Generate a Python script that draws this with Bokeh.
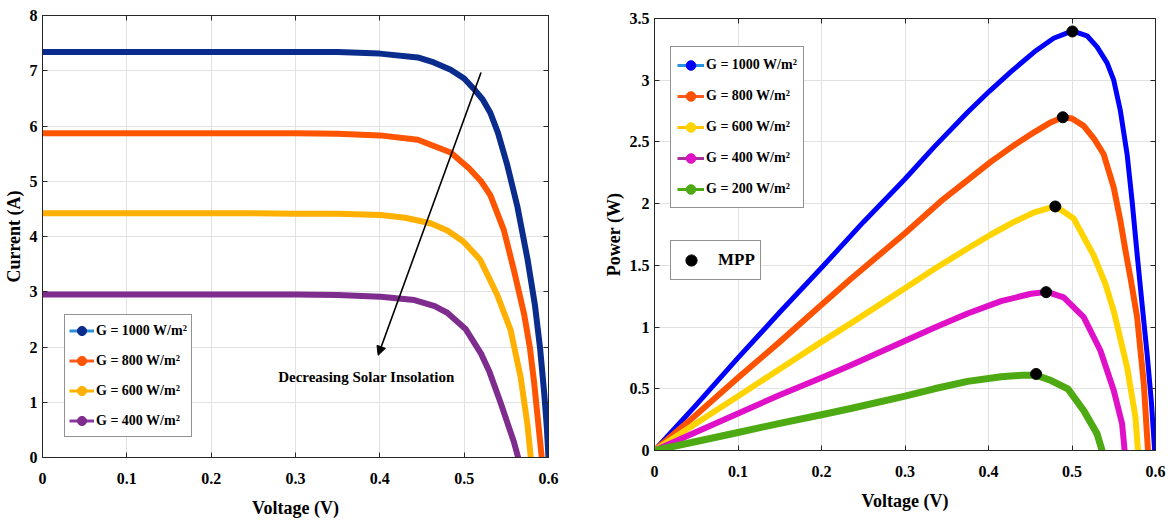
import numpy as np
from bokeh.plotting import figure
from bokeh.models import (Range1d, FixedTicker, CustomJSTickFormatter, LinearAxis,
                          Legend, LegendItem, Arrow, NormalHead, Label)
from bokeh.layouts import row, column
from bokeh.embed import file_html
from bokeh.resources import INLINE

FONT = "Liberation Serif"

# ---------------- ticks ----------------
v_ticks = [0, 0.1, 0.2, 0.3, 0.4, 0.5, 0.6]
v_tick_labels = ["0", "0.1", "0.2", "0.3", "0.4", "0.5", "0.6"]
i_ticks = [0, 1, 2, 3, 4, 5, 6, 7, 8]
i_tick_labels = ["0", "1", "2", "3", "4", "5", "6", "7", "8"]
p_ticks = [0, 0.5, 1, 1.5, 2, 2.5, 3, 3.5]
p_tick_labels = ["0", "0.5", "1", "1.5", "2", "2.5", "3", "3.5"]

# ---------------- I-V data (left) ----------------
iv_labels = ["G = 1000 W/m²", "G = 800 W/m²", "G = 600 W/m²", "G = 400 W/m²"]
v_1000 = [0, 0.05, 0.1, 0.15, 0.2, 0.25, 0.3, 0.35, 0.40, 0.445, 0.464, 0.484, 0.50, 0.511,
          0.522, 0.531, 0.540, 0.551, 0.563, 0.575, 0.584, 0.590, 0.595, 0.598, 0.600]
i_1000 = [7.34, 7.34, 7.34, 7.34, 7.34, 7.34, 7.34, 7.34, 7.31, 7.24, 7.15, 7.02, 6.86, 6.68,
          6.48, 6.24, 5.88, 5.30, 4.55, 3.60, 2.75, 1.98, 1.15, 0.55, 0.0]
v_800 = [0, 0.05, 0.1, 0.15, 0.2, 0.25, 0.3, 0.35, 0.40, 0.445, 0.484, 0.506, 0.52, 0.531,
         0.547, 0.559, 0.571, 0.578, 0.583, 0.588, 0.592]
i_800 = [5.87, 5.87, 5.87, 5.87, 5.87, 5.87, 5.87, 5.86, 5.83, 5.75, 5.52, 5.23, 5.00, 4.75,
         4.12, 3.39, 2.60, 1.98, 1.35, 0.60, 0.0]
v_600 = [0, 0.05, 0.1, 0.15, 0.2, 0.25, 0.3, 0.35, 0.401, 0.43, 0.460, 0.480, 0.499, 0.519,
         0.539, 0.555, 0.567, 0.575, 0.579]
i_600 = [4.42, 4.42, 4.42, 4.42, 4.42, 4.42, 4.41, 4.41, 4.39, 4.34, 4.24, 4.11, 3.91, 3.58,
         2.95, 2.31, 1.45, 0.60, 0.0]
v_400 = [0, 0.05, 0.1, 0.15, 0.2, 0.25, 0.3, 0.35, 0.401, 0.441, 0.465, 0.480, 0.502, 0.520,
         0.530, 0.543, 0.553, 0.559, 0.564]
i_400 = [2.95, 2.95, 2.95, 2.95, 2.95, 2.95, 2.95, 2.94, 2.91, 2.85, 2.74, 2.62, 2.32, 1.88,
         1.55, 1.00, 0.55, 0.28, 0.0]

# ---------------- P-V data (right) ----------------
pv_labels = ["G = 1000 W/m²", "G = 800 W/m²", "G = 600 W/m²", "G = 400 W/m²", "G = 200 W/m²"]
pv_v_1000 = [0, 0.05, 0.1, 0.15, 0.2, 0.25, 0.3, 0.335, 0.375, 0.401, 0.427, 0.455, 0.478,
             0.5005, 0.518, 0.530, 0.542, 0.550, 0.558, 0.566, 0.572, 0.578, 0.584, 0.590,
             0.595, 0.599]
pv_p_1000 = [0, 0.37, 0.75, 1.12, 1.48, 1.85, 2.20, 2.46, 2.74, 2.91, 3.07, 3.23, 3.34,
             3.40, 3.36, 3.27, 3.14, 3.00, 2.75, 2.40, 2.02, 1.59, 1.18, 0.78, 0.40, 0.0]
pv_v_800 = [0, 0.05, 0.1, 0.15, 0.2, 0.235, 0.3, 0.343, 0.375, 0.403, 0.43, 0.455, 0.475,
            0.489, 0.50, 0.514, 0.527, 0.538, 0.550, 0.558, 0.564, 0.570, 0.578, 0.586, 0.591]
pv_p_800 = [0, 0.29, 0.59, 0.88, 1.18, 1.39, 1.76, 2.02, 2.19, 2.34, 2.47, 2.58, 2.66,
            2.70, 2.69, 2.63, 2.52, 2.40, 2.13, 1.86, 1.62, 1.40, 1.08, 0.54, 0.0]
pv_v_600 = [0, 0.05, 0.1, 0.15, 0.2, 0.235, 0.299, 0.335, 0.371, 0.403, 0.43, 0.455, 0.480,
            0.502, 0.526, 0.540, 0.550, 0.566, 0.576, 0.579]
pv_p_600 = [0, 0.22, 0.44, 0.66, 0.88, 1.03, 1.31, 1.47, 1.62, 1.75, 1.85, 1.93, 1.98,
            1.88, 1.58, 1.35, 1.13, 0.675, 0.27, 0.0]
pv_v_400 = [0, 0.05, 0.1, 0.15, 0.2, 0.235, 0.299, 0.335, 0.375, 0.415, 0.451, 0.470, 0.490,
            0.514, 0.534, 0.550, 0.560, 0.563]
pv_p_400 = [0, 0.15, 0.30, 0.45, 0.59, 0.69, 0.885, 0.995, 1.11, 1.21, 1.27, 1.285, 1.24,
            1.08, 0.81, 0.486, 0.216, 0.0]
pv_v_200 = [0, 0.05, 0.1, 0.15, 0.2, 0.235, 0.3, 0.335, 0.375, 0.415, 0.44, 0.457, 0.475,
            0.495, 0.514, 0.530, 0.536]
pv_p_200 = [0, 0.073, 0.146, 0.22, 0.29, 0.34, 0.44, 0.50, 0.56, 0.597, 0.61, 0.61, 0.567,
            0.50, 0.324, 0.135, 0.0]

mpp_v = [0.5005, 0.489, 0.480, 0.469, 0.457]
mpp_p = [3.395, 2.70, 1.977, 1.283, 0.62]

# annotation
arrow_x = [0.520, 0.398]
arrow_y = [6.97, 1.85]
note_text = "Decreasing Solar Insolation"
note_x, note_y = 0.384, 1.45

# ---------------- styles ----------------
iv_colors = ["#0A2C8C", "#FF5400", "#FFB000", "#7E2C8E"]
iv_leg_line = ["#2C8FD8", "#FF5A1E", "#FFB300", "#8A3A9C"]
pv_colors = ["#0000FF", "#FF5200", "#FFD400", "#E010C8", "#4DAA12"]
pv_leg_line = ["#2A90E0", "#FF5A1E", "#FFC400", "#A8309C", "#4DAA12"]
NAN = np.array([np.nan])


def fmt(tvals, tlabs):
    return CustomJSTickFormatter(
        args=dict(tvals=tvals, tlabs=tlabs),
        code="var k = -1; for (var j = 0; j < tvals.length; j++) { if (Math.abs(tvals[j] - tick) < 1e-9) { k = j; } } return k >= 0 ? tlabs[k] : '';")


def style_axis(ax, tvals, tlabs, standoff):
    ax.ticker = FixedTicker(ticks=tvals)
    ax.formatter = fmt(tvals, tlabs)
    ax.major_tick_in = 5
    ax.major_tick_out = 0
    ax.minor_tick_in = 0
    ax.minor_tick_out = 0
    ax.axis_line_color = "#262626"
    ax.major_tick_line_color = "#262626"
    ax.major_label_text_font = FONT
    ax.major_label_text_font_style = "bold"
    ax.major_label_text_font_size = "16px"
    ax.major_label_text_color = "black"
    ax.major_label_standoff = standoff
    ax.axis_label_text_font = FONT
    ax.axis_label_text_font_style = "bold"
    ax.axis_label_text_font_size = "18px"
    ax.axis_label_text_color = "black"


def mirror_axes(p, xticks, yticks):
    for loc, tv in (("right", yticks), ("above", xticks)):
        ax = LinearAxis(ticker=FixedTicker(ticks=tv),
                        formatter=CustomJSTickFormatter(code="return '';"),
                        major_label_text_font_size="0px",
                        major_tick_in=5, major_tick_out=0, minor_tick_in=0, minor_tick_out=0,
                        major_label_standoff=0, axis_line_color="#262626",
                        major_tick_line_color="#262626")
        p.add_layout(ax, loc)


def base_fig(width, y_end, yticks, ytick_labels, ylabel, borders):
    l, r, t, b = borders
    p = figure(width=width, height=524, x_range=Range1d(0, 0.6), y_range=Range1d(0, y_end),
               output_backend="svg", toolbar_location=None,
               min_border_left=l, min_border_right=r, min_border_top=t, min_border_bottom=b)
    p.background_fill_color = "white"
    p.border_fill_color = "white"
    p.outline_line_color = "#262626"
    p.outline_line_width = 1
    p.outline_line_alpha = 1
    style_axis(p.xaxis[0], v_ticks, v_tick_labels, 15)
    style_axis(p.yaxis[0], yticks, ytick_labels, 5)
    p.xaxis[0].axis_label = "Voltage (V)"
    p.xaxis[0].axis_label_standoff = 11
    p.yaxis[0].axis_label = ylabel
    p.yaxis[0].axis_label_standoff = 3
    p.xgrid.ticker = FixedTicker(ticks=v_ticks)
    p.ygrid.ticker = FixedTicker(ticks=yticks)
    for g in (p.xgrid[0], p.ygrid[0]):
        g.grid_line_color = "#E2E2E2"
        g.grid_line_width = 1
    mirror_axes(p, v_ticks, yticks)
    return p


def legend_entry(p, lab, lc, mc, msize):
    lr = p.line(x=NAN, y=NAN, line_color=lc, line_width=3)
    sr = p.scatter(x=NAN, y=NAN, marker="circle", size=msize, fill_color=mc, line_color=mc)
    return LegendItem(label=lab, renderers=[lr, sr])


# ---------------- left: I-V ----------------
p1 = base_fig(600, 8, i_ticks, i_tick_labels, "Current (A)", (41, 52, 15, 67))

iv_series = [(v_1000, i_1000), (v_800, i_800), (v_600, i_600), (v_400, i_400)]
for (vx, iy), c in zip(iv_series, iv_colors):
    p1.line(vx, iy, line_color=c, line_width=6, line_join="round", line_cap="round")

arrow = Arrow(end=NormalHead(size=9, fill_color="black", line_color="black"),
              x_start=arrow_x[0], y_start=arrow_y[0], x_end=arrow_x[1], y_end=arrow_y[1],
              line_color="black", line_width=1.6)
p1.add_layout(arrow)
p1.add_layout(Label(x=note_x, y=note_y, text=note_text, text_font=FONT,
                    text_font_style="bold", text_font_size="15px", text_color="black",
                    text_align="center", text_baseline="middle"))

items1 = [legend_entry(p1, lab, lc, mc, 4) for lab, lc, mc in zip(iv_labels, iv_leg_line, iv_colors)]
leg1 = Legend(items=items1, location=(22, 20), margin=0, padding=4, spacing=7,
              glyph_width=25, glyph_height=23, label_height=23, label_standoff=2,
              label_text_font=FONT, label_text_font_style="bold", label_text_font_size="14px",
              label_text_color="black",
              border_line_color="#262626", border_line_width=1, background_fill_alpha=1)
p1.add_layout(leg1)

# ---------------- right: P-V ----------------
p2 = base_fig(571, 3.5, p_ticks, p_tick_labels, "Power (W)", (53, 16, 18, 74))

pv_series = [(pv_v_1000, pv_p_1000), (pv_v_800, pv_p_800), (pv_v_600, pv_p_600),
             (pv_v_400, pv_p_400), (pv_v_200, pv_p_200)]
widths = [5, 6, 6, 6, 7]
for (vx, py), c, w in zip(pv_series, pv_colors, widths):
    p2.line(vx, py, line_color=c, line_width=w, line_join="round", line_cap="round")

p2.scatter(mpp_v, mpp_p, marker="circle", size=11, fill_color="black", line_color="black")

items2 = [legend_entry(p2, lab, lc, mc, 5) for lab, lc, mc in zip(pv_labels, pv_leg_line, pv_colors)]
leg2 = Legend(items=items2, location=(16, 242), margin=0, padding=6, spacing=7,
              glyph_width=27, glyph_height=24, label_height=24, label_standoff=2,
              label_text_font=FONT, label_text_font_style="bold", label_text_font_size="14px",
              label_text_color="black",
              border_line_color="#262626", border_line_width=1, background_fill_alpha=1)
p2.add_layout(leg2)

mr = p2.scatter(x=NAN, y=NAN, marker="circle", size=11, fill_color="black", line_color="black")
leg3 = Legend(items=[LegendItem(label="MPP", renderers=[mr])], location=(16, 170), margin=0,
              padding=5, glyph_width=30, glyph_height=28, label_height=28, label_standoff=12,
              label_text_font=FONT, label_text_font_style="bold", label_text_font_size="17px",
              label_text_color="black",
              border_line_color="#262626", border_line_width=1, background_fill_alpha=1)
p2.add_layout(leg3)

layout = row(column(p1), column(p2))
open("out.html", "w").write(file_html(layout, INLINE))
